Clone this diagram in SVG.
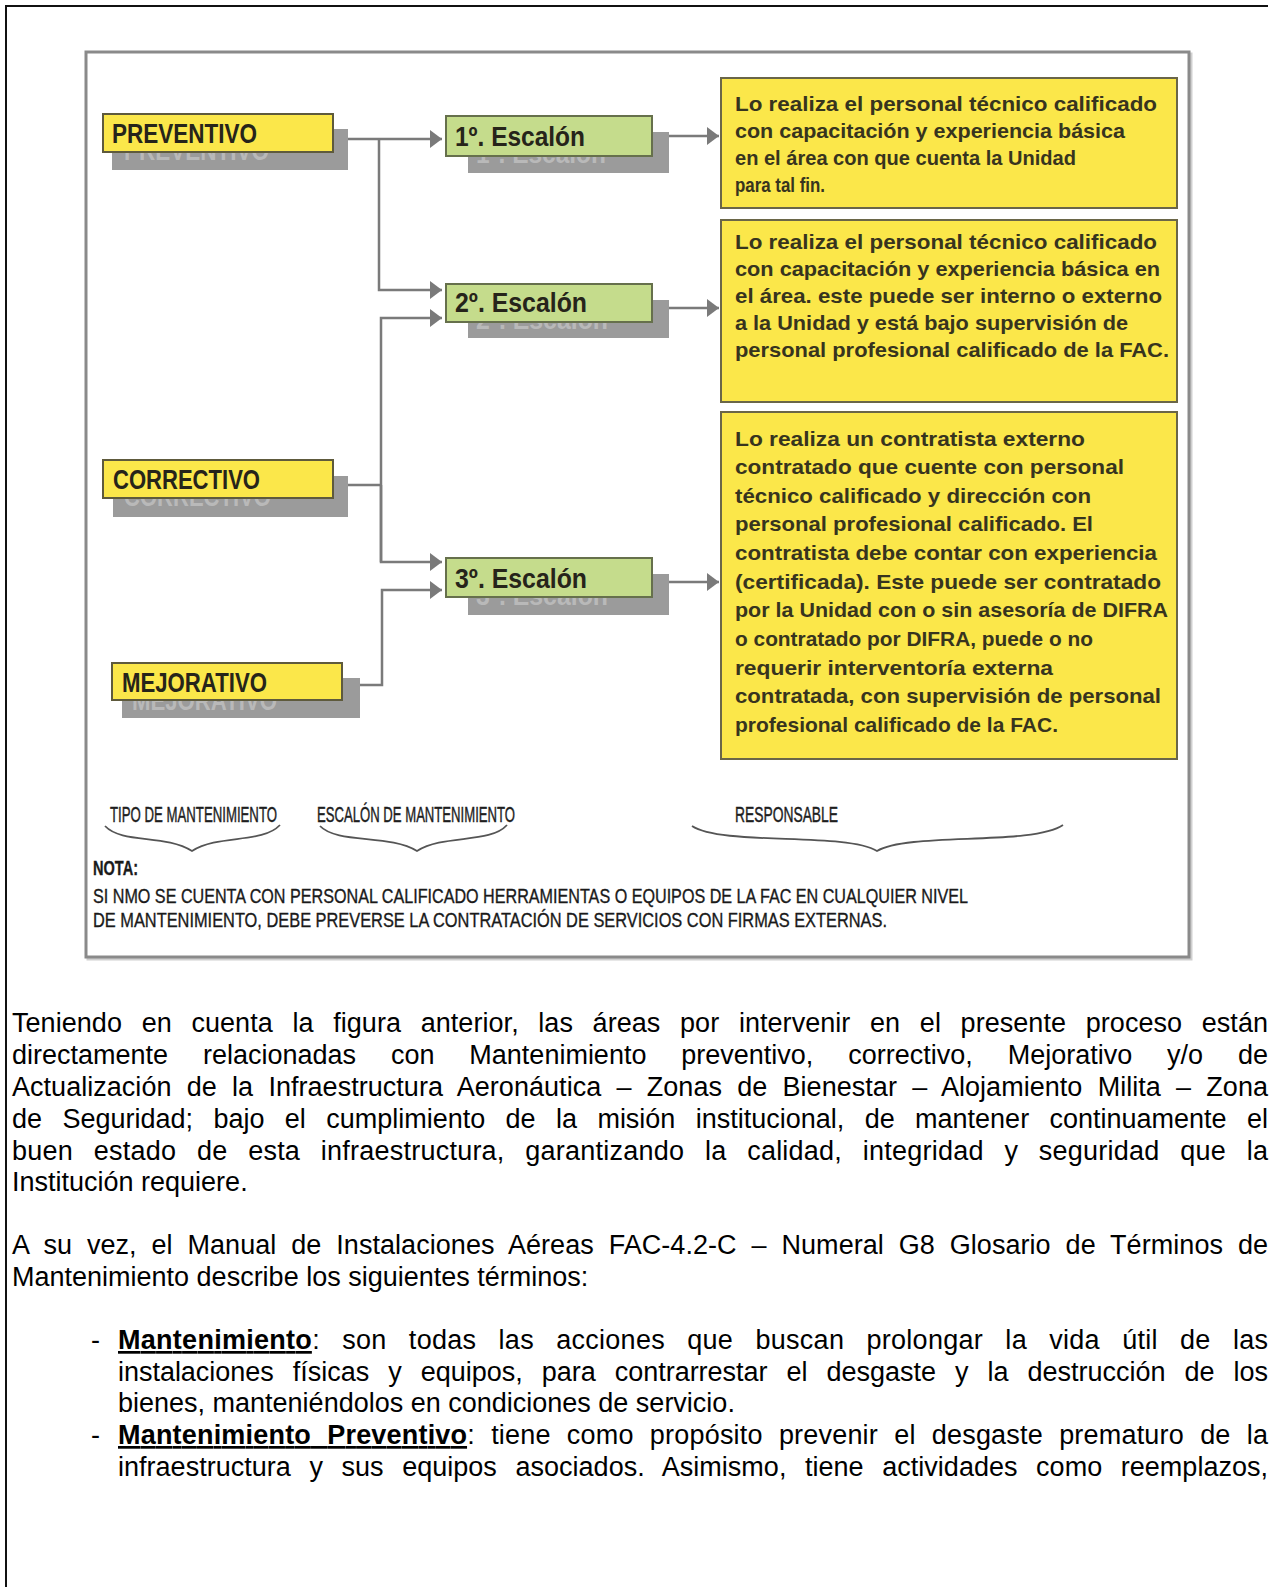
<svg xmlns="http://www.w3.org/2000/svg" width="1270" height="1587" viewBox="0 0 1270 1587">
<style>
.tipo{fill:#fbe74a;stroke:#5e5a3c;stroke-width:2}
.esc{fill:#c5dc8c;stroke:#66704c;stroke-width:2}
.resp{fill:#fbe74a;stroke:#6a6648;stroke-width:2}
.shadow{fill:#9b9b9b}
.shtxt{font-family:"Liberation Sans",Arial,sans-serif;font-weight:bold;fill:#b9b9b9}
.ttl{font-family:"Liberation Sans",Arial,sans-serif;font-weight:bold;fill:#26241a}
.rt{font-family:"Liberation Sans",Arial,sans-serif;font-weight:bold;font-size:20.5px;fill:#37341e}
.lbl{font-family:"Liberation Sans",Arial,sans-serif;font-size:22px;fill:#1e1e1e;stroke:#1e1e1e;stroke-width:0.45}
.nota{font-family:"Liberation Sans",Arial,sans-serif;font-size:20px;fill:#1a1a1a;stroke:#1a1a1a;stroke-width:0.35}
.body{font-family:"Liberation Sans",Arial,sans-serif;font-size:27px;fill:#000}
.conn{fill:none;stroke:#7a7a7a;stroke-width:2.5}
.brace{fill:none;stroke:#555;stroke-width:1.8}
</style>
<defs>
<marker id="arr" markerUnits="userSpaceOnUse" markerWidth="13" markerHeight="18" refX="12" refY="9" orient="auto">
<path d="M0,0 L12,9 L0,18 z" fill="#7a7a7a"/>
</marker>
</defs>
<rect width="1270" height="1587" fill="#fff"/>
<path d="M6,1587 V6 H1268" fill="none" stroke="#111" stroke-width="2"/>

<g id="frame">
<rect x="88" y="54" width="1103" height="905" fill="none" stroke="#cfcfcf" stroke-width="3"/>
<rect x="86" y="52" width="1103" height="905" fill="#fff" stroke="#8a8a8a" stroke-width="3"/>
</g>

<g id="connectors">
<path class="conn" d="M348,139 H442" marker-end="url(#arr)"/>
<path class="conn" d="M379,139 V290 H442" marker-end="url(#arr)"/>
<path class="conn" d="M348,485 H381"/>
<path class="conn" d="M381,562 V318 H442" marker-end="url(#arr)"/>
<path class="conn" d="M381,485 V562 H442" marker-end="url(#arr)"/>
<path class="conn" d="M360,685 H382 V590 H442" marker-end="url(#arr)"/>
<path class="conn" d="M669,136 H719" marker-end="url(#arr)"/>
<path class="conn" d="M669,308 H719" marker-end="url(#arr)"/>
<path class="conn" d="M669,582 H719" marker-end="url(#arr)"/>
</g>

<g id="preventivo">
<rect class="shadow" x="112" y="129" width="236" height="41"/>
<text class="shtxt" x="124" y="160" font-size="27" textLength="145" lengthAdjust="spacingAndGlyphs">PREVENTIVO</text>
<rect class="tipo" x="103" y="114" width="230" height="38"/>
<text class="ttl" x="112" y="143" font-size="27" textLength="145" lengthAdjust="spacingAndGlyphs">PREVENTIVO</text>
</g>

<g id="correctivo">
<rect class="shadow" x="113" y="476" width="235" height="41"/>
<text class="shtxt" x="124" y="506" font-size="27" textLength="147" lengthAdjust="spacingAndGlyphs">CORRECTIVO</text>
<rect class="tipo" x="103" y="460" width="230" height="38"/>
<text class="ttl" x="113" y="489" font-size="27" textLength="147" lengthAdjust="spacingAndGlyphs">CORRECTIVO</text>
</g>

<g id="mejorativo">
<rect class="shadow" x="122" y="678" width="238" height="40"/>
<text class="shtxt" x="132" y="710" font-size="27" textLength="145" lengthAdjust="spacingAndGlyphs">MEJORATIVO</text>
<rect class="tipo" x="112" y="663" width="230" height="37"/>
<text class="ttl" x="122" y="692" font-size="27" textLength="145" lengthAdjust="spacingAndGlyphs">MEJORATIVO</text>
</g>

<g id="escalon1">
<rect class="shadow" x="468" y="132" width="201" height="41"/>
<text class="shtxt" x="476" y="163" font-size="27" textLength="130" lengthAdjust="spacingAndGlyphs">1º. Escalón</text>
<rect class="esc" x="446" y="116" width="206" height="40"/>
<text class="ttl" x="455" y="146" font-size="27" textLength="130" lengthAdjust="spacingAndGlyphs">1º. Escalón</text>
</g>

<g id="escalon2">
<rect class="shadow" x="468" y="300" width="201" height="38"/>
<text class="shtxt" x="476" y="329" font-size="27" textLength="132" lengthAdjust="spacingAndGlyphs">2º. Escalón</text>
<rect class="esc" x="446" y="284" width="206" height="38"/>
<text class="ttl" x="455" y="312" font-size="27" textLength="132" lengthAdjust="spacingAndGlyphs">2º. Escalón</text>
</g>

<g id="escalon3">
<rect class="shadow" x="468" y="574" width="201" height="41"/>
<text class="shtxt" x="476" y="605" font-size="27" textLength="132" lengthAdjust="spacingAndGlyphs">3º. Escalón</text>
<rect class="esc" x="446" y="558" width="206" height="39"/>
<text class="ttl" x="455" y="588" font-size="27" textLength="132" lengthAdjust="spacingAndGlyphs">3º. Escalón</text>
</g>

<g id="responsable1">
<rect class="resp" x="721" y="78" width="456" height="130"/>
<text class="rt" x="735" y="111" textLength="422" lengthAdjust="spacingAndGlyphs">Lo realiza el personal técnico calificado</text>
<text class="rt" x="735" y="138" textLength="390" lengthAdjust="spacingAndGlyphs">con capacitación y experiencia básica</text>
<text class="rt" x="735" y="165" textLength="341" lengthAdjust="spacingAndGlyphs">en el área con que cuenta la Unidad</text>
<text class="rt" x="735" y="192" textLength="90" lengthAdjust="spacingAndGlyphs">para tal fin.</text>
</g>

<g id="responsable2">
<rect class="resp" x="721" y="220" width="456" height="182"/>
<text class="rt" x="735" y="249" textLength="422" lengthAdjust="spacingAndGlyphs">Lo realiza el personal técnico calificado</text>
<text class="rt" x="735" y="276" textLength="425" lengthAdjust="spacingAndGlyphs">con capacitación y experiencia básica en</text>
<text class="rt" x="735" y="303" textLength="427" lengthAdjust="spacingAndGlyphs">el área. este puede ser interno o externo</text>
<text class="rt" x="735" y="330" textLength="393" lengthAdjust="spacingAndGlyphs">a la Unidad y está bajo supervisión de</text>
<text class="rt" x="735" y="357" textLength="434" lengthAdjust="spacingAndGlyphs">personal profesional calificado de la FAC.</text>
</g>

<g id="responsable3">
<rect class="resp" x="721" y="412" width="456" height="347"/>
<text class="rt" x="735" y="446" textLength="350" lengthAdjust="spacingAndGlyphs">Lo realiza un contratista externo</text>
<text class="rt" x="735" y="474" textLength="389" lengthAdjust="spacingAndGlyphs">contratado que cuente con personal</text>
<text class="rt" x="735" y="503" textLength="356" lengthAdjust="spacingAndGlyphs">técnico calificado y dirección con</text>
<text class="rt" x="735" y="531" textLength="358" lengthAdjust="spacingAndGlyphs">personal profesional calificado. El</text>
<text class="rt" x="735" y="560" textLength="422" lengthAdjust="spacingAndGlyphs">contratista debe contar con experiencia</text>
<text class="rt" x="735" y="589" textLength="426" lengthAdjust="spacingAndGlyphs">(certificada). Este puede ser contratado</text>
<text class="rt" x="735" y="617" textLength="433" lengthAdjust="spacingAndGlyphs">por la Unidad con o sin asesoría de DIFRA</text>
<text class="rt" x="735" y="646" textLength="358" lengthAdjust="spacingAndGlyphs">o contratado por DIFRA, puede o no</text>
<text class="rt" x="735" y="675" textLength="318" lengthAdjust="spacingAndGlyphs">requerir interventoría externa</text>
<text class="rt" x="735" y="703" textLength="426" lengthAdjust="spacingAndGlyphs">contratada, con supervisión de personal</text>
<text class="rt" x="735" y="732" textLength="323" lengthAdjust="spacingAndGlyphs">profesional calificado de la FAC.</text>
</g>

<g id="labels">
<text class="lbl" x="110" y="822" textLength="167" lengthAdjust="spacingAndGlyphs">TIPO DE MANTENIMIENTO</text>
<text class="lbl" x="317" y="822" textLength="198" lengthAdjust="spacingAndGlyphs">ESCALÓN DE MANTENIMIENTO</text>
<text class="lbl" x="735" y="822" textLength="103" lengthAdjust="spacingAndGlyphs">RESPONSABLE</text>
<path class="brace" d="M105,826 C122,844 165,834 192,851 C219,834 262,844 280,825"/>
<path class="brace" d="M320,826 C337,844 390,834 417,851 C444,834 490,844 507,825"/>
<path class="brace" d="M692,826 C722,846 845,832 877,851 C909,832 1032,846 1063,825"/>
</g>

<g id="nota">
<text class="nota" x="93" y="875" font-weight="bold" textLength="45" lengthAdjust="spacingAndGlyphs">NOTA:</text>
<text class="nota" x="93" y="903" textLength="875" lengthAdjust="spacingAndGlyphs">SI NMO SE CUENTA CON PERSONAL CALIFICADO HERRAMIENTAS O EQUIPOS DE LA FAC EN CUALQUIER NIVEL</text>
<text class="nota" x="93" y="927" textLength="794" lengthAdjust="spacingAndGlyphs">DE MANTENIMIENTO, DEBE PREVERSE LA CONTRATACIÓN DE SERVICIOS CON FIRMAS EXTERNAS.</text>
</g>

<g id="texto">
<text class="body" x="12" y="1032" word-spacing="12.1" textLength="1256" lengthAdjust="spacing">Teniendo en cuenta la figura anterior, las áreas por intervenir en el presente proceso están</text>
<text class="body" x="12" y="1064" word-spacing="27.4" textLength="1256" lengthAdjust="spacing">directamente relacionadas con Mantenimiento preventivo, correctivo, Mejorativo y/o de</text>
<text class="body" x="12" y="1096" word-spacing="7.7" textLength="1256" lengthAdjust="spacing">Actualización de la Infraestructura Aeronáutica – Zonas de Bienestar – Alojamiento Milita – Zona</text>
<text class="body" x="12" y="1128" word-spacing="12.9" textLength="1256" lengthAdjust="spacing">de Seguridad; bajo el cumplimiento de la misión institucional, de mantener continuamente el</text>
<text class="body" x="12" y="1160" word-spacing="13" textLength="1256" lengthAdjust="spacing">buen estado de esta infraestructura, garantizando la calidad, integridad y seguridad que la</text>
<text class="body" x="12" y="1191">Institución requiere.</text>
<text class="body" x="12" y="1254" word-spacing="7.3" textLength="1256" lengthAdjust="spacing">A su vez, el Manual de Instalaciones Aéreas FAC-4.2-C – Numeral G8 Glosario de Términos de</text>
<text class="body" x="12" y="1286">Mantenimiento describe los siguientes términos:</text>
<text class="body" x="91" y="1349">-</text>
<text class="body" x="118" y="1349" word-spacing="14.5" textLength="1150" lengthAdjust="spacing"><tspan font-weight="bold" text-decoration="underline">Mantenimiento</tspan>: son todas las acciones que buscan prolongar la vida útil de las</text>
<text class="body" x="118" y="1381" word-spacing="11.6" textLength="1150" lengthAdjust="spacing">instalaciones físicas y equipos, para contrarrestar el desgaste y la destrucción de los</text>
<text class="body" x="118" y="1412">bienes, manteniéndolos en condiciones de servicio.</text>
<text class="body" x="91" y="1444">-</text>
<text class="body" x="118" y="1444" word-spacing="8.5" textLength="1150" lengthAdjust="spacing"><tspan font-weight="bold" text-decoration="underline">Mantenimiento Preventivo</tspan>: tiene como propósito prevenir el desgaste prematuro de la</text>
<text class="body" x="118" y="1476" word-spacing="11.1" textLength="1150" lengthAdjust="spacing">infraestructura y sus equipos asociados. Asimismo, tiene actividades como reemplazos,</text>
</g>
</svg>
